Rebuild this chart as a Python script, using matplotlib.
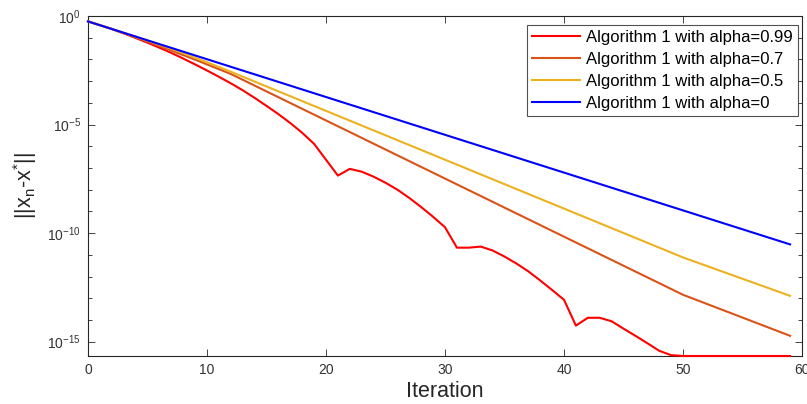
import numpy as np
import matplotlib
matplotlib.use("Agg")
import matplotlib.pyplot as plt
from matplotlib.ticker import FixedLocator, NullFormatter, LogFormatterSciNotation

plt.rcParams['font.family'] = ['Liberation Sans', 'DejaVu Sans']
plt.rcParams['mathtext.default'] = 'regular'

# ---- data (log10 of ||x_n - x*||) ----
it_red = list(range(0, 60))
log_red = [-0.25, -0.42, -0.60, -0.80, -1.01, -1.23, -1.46, -1.70, -1.96, -2.23,
           -2.51, -2.80, -3.10, -3.42, -3.77, -4.14, -4.52, -4.93, -5.38, -5.89,
           -6.62, -7.35, -7.04, -7.17, -7.40, -7.68, -8.00, -8.38, -8.80, -9.25,
           -9.73, -10.67, -10.67, -10.62, -10.80, -11.08, -11.40, -11.76, -12.18, -12.62,
           -13.07, -14.26, -13.90, -13.90, -14.06, -14.40, -14.73, -15.07, -15.42, -15.62,
           -15.66, -15.66, -15.66, -15.66, -15.66, -15.66, -15.66, -15.66, -15.66, -15.66]

it_orange = [0, 1, 2, 3, 4, 5, 6, 7, 8, 9, 10, 11, 12, 50, 59]
log_orange = [-0.25, -0.42, -0.60, -0.79, -0.98, -1.18, -1.38, -1.59, -1.80, -2.01,
              -2.23, -2.45, -2.67, -12.84, -14.73]

it_yellow = [0, 1, 2, 3, 4, 5, 6, 7, 8, 9, 10, 11, 12, 50, 59]
log_yellow = [-0.25, -0.42, -0.595, -0.77, -0.95, -1.13, -1.32, -1.51, -1.71, -1.92,
              -2.13, -2.35, -2.57, -11.12, -12.89]

it_blue = [0, 59]
log_blue = [-0.25, -10.52]

labels = ['Algorithm 1 with alpha=0.99', 'Algorithm 1 with alpha=0.7',
          'Algorithm 1 with alpha=0.5', 'Algorithm 1 with alpha=0']
colors = ['#FF0000', '#D95319', '#EDB120', '#0000FF']

fig = plt.figure(figsize=(8.07, 4.04), dpi=100)
ax = fig.add_axes([88/807, 1-356/404, (802-88)/807, (356-16)/404])

series = [(it_red, log_red), (it_orange, log_orange), (it_yellow, log_yellow), (it_blue, log_blue)]
for (xs, ls), c, lab in zip(series, colors, labels):
    ax.plot(xs, 10.0**np.array(ls), color=c, lw=1.5, label=lab, clip_on=False, zorder=3)

ax.set_yscale('log')
ax.set_xlim(0, 60)
ax.set_ylim(10**-15.66, 1)

ax.xaxis.set_major_locator(FixedLocator([0, 10, 20, 30, 40, 50, 60]))
ax.yaxis.set_major_locator(FixedLocator([1e-15, 1e-10, 1e-5, 1]))
ax.yaxis.set_major_formatter(LogFormatterSciNotation())
minors = [10.0**-k for k in range(16) if k % 5 != 0]
ax.yaxis.set_minor_locator(FixedLocator(minors))
ax.yaxis.set_minor_formatter(NullFormatter())

axcol = '#262626'
for s in ax.spines.values():
    s.set_color(axcol)
    s.set_linewidth(0.8)
ax.tick_params(which='both', direction='in', top=True, right=True, color=axcol,
               labelcolor='#333333', labelsize=10, width=0.6)
ax.tick_params(which='major', length=5, pad=5)
ax.tick_params(which='minor', length=3)

ax.set_xlabel('Iteration', fontsize=15.5, color='#262626', labelpad=3)
ax.set_ylabel(r'||x$_{n}$-x$^{*}$||', fontsize=15.5, color='#262626', labelpad=6)

leg = ax.legend(loc='upper right', bbox_to_anchor=((798-88)/714, (356-25)/340),
                borderaxespad=0.0, fontsize=12, frameon=True, fancybox=False,
                edgecolor='#262626', handlelength=2.9, handletextpad=0.35,
                borderpad=0.3, labelspacing=0.42)
leg.get_frame().set_linewidth(0.8)
leg.set_zorder(5)

fig.savefig('out.png', dpi=100)
